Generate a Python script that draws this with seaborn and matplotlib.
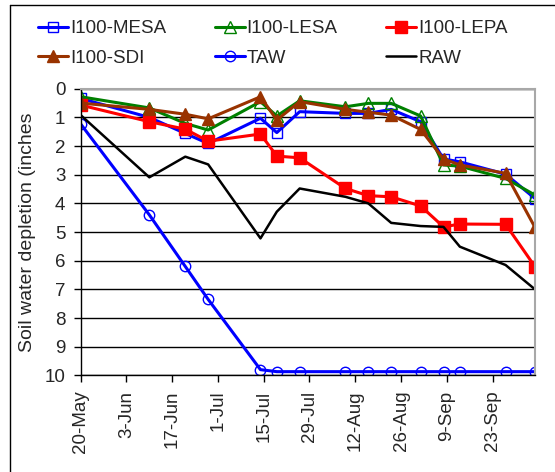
import pandas as pd
import seaborn as sns
import matplotlib
matplotlib.use('Agg')
import matplotlib.pyplot as plt
from matplotlib.lines import Line2D

# measurement dates and depletion values (inches)
dates = ['2010-05-20', '2010-06-10', '2010-06-21', '2010-06-28', '2010-07-14',
         '2010-07-19', '2010-07-26', '2010-08-09', '2010-08-16', '2010-08-23',
         '2010-09-01', '2010-09-08', '2010-09-13', '2010-09-27', '2010-10-06']
mesa = [0.34, 1.0, 1.56, 1.91, 1.03, 1.53, 0.8, 0.86, 0.86, 0.72, 1.15, 2.45, 2.55, 2.98, 3.83]
lesa = [0.28, 0.67, 1.21, 1.44, 0.45, 0.95, 0.42, 0.63, 0.51, 0.51, 0.95, 2.66, 2.70, 3.13, 3.71]
lepa = [0.57, 1.15, 1.41, 1.83, 1.58, 2.35, 2.41, 3.48, 3.73, 3.77, 4.09, 4.82, 4.72, 4.73, 6.21]
sdi = [0.5, 0.72, 0.89, 1.05, 0.28, 1.09, 0.45, 0.72, 0.82, 0.92, 1.42, 2.45, 2.66, 2.95, 4.84]
taw = [1.23, 4.4, 6.2, 7.35, 9.8, 9.87, 9.87, 9.87, 9.87, 9.87, 9.87, 9.87, 9.87, 9.87, 9.87]
raw = [0.92, 3.09, 2.37, 2.64, 5.22, 4.29, 3.48, 3.77, 4.0, 4.68, 4.79, 4.82, 5.51, 6.15, 7.0]

series_names = ['I100-MESA', 'I100-LESA', 'I100-LEPA', 'I100-SDI', 'TAW', 'RAW']
y_ticks = list(range(0, 11))

sns.set_theme(style='white')
plt.rcParams['font.family'] = ['Liberation Sans', 'DejaVu Sans']
plt.rcParams['font.size'] = 13.5

x = pd.to_datetime(dates)

# line/marker styles per series (Excel-like)
styles = {
    'I100-MESA': dict(color='#0000FF', marker='s', ms=7.5, mfc='none', mec='#0000FF', mew=1, lw=2.2),
    'I100-LESA': dict(color='#008000', marker='^', ms=8, mfc='none', mec='#008000', mew=1, lw=2.2),
    'I100-LEPA': dict(color='#FF0000', marker='s', ms=9, mfc='#FF0000', mec='#FF0000', mew=1, lw=2.2),
    'I100-SDI': dict(color='#993300', marker='^', ms=9, mfc='#993300', mec='#993300', mew=1, lw=2.2),
    'TAW': dict(color='#0000FF', marker='o', ms=7.5, mfc='none', mec='#0000FF', mew=1, lw=2.2),
    'RAW': dict(color='black', marker=None, lw=1.8),
}
values = {'I100-MESA': mesa, 'I100-LESA': lesa, 'I100-LEPA': lepa,
          'I100-SDI': sdi, 'TAW': taw, 'RAW': raw}

fig = plt.figure(figsize=(5.55, 4.72), dpi=100)
ax = fig.add_axes([0.1454, 0.2047, 0.8186, 0.6073])

handles = {}
for name in series_names:
    st = styles[name]
    sns.lineplot(x=x, y=values[name], ax=ax, **st)
    handles[name] = Line2D([], [], label=name, **st)

ax.set_ylim(10, 0)
ax.set_yticks(y_ticks)
ax.set_xlim(x[0], x[-1])
ticks = pd.date_range('2010-05-20', '2010-09-23', freq='14D')
ax.set_xticks(ticks)
ax.set_xticklabels([f"{d.day}-{d.strftime('%b')}" for d in ticks], rotation=90)
ax.set_xlabel('')
ax.set_ylabel('Soil water depletion (inches', labelpad=6, fontsize=14)

ax.yaxis.grid(True, color='black', lw=1)
ax.set_axisbelow(True)
ax.tick_params(axis='both', direction='out', length=5, width=1, color='black', pad=6,
               bottom=True, left=True, labelsize=13.5)
for side in ['left', 'bottom']:
    ax.spines[side].set_color('black')
    ax.spines[side].set_linewidth(1)
for side in ['top', 'right']:
    ax.spines[side].set_color('#A8A8A8')
    ax.spines[side].set_linewidth(1.5)

# legend fills column by column, so order handles to read row by row
leg_order = ['I100-MESA', 'I100-SDI', 'I100-LESA', 'TAW', 'I100-LEPA', 'RAW']
fig.legend(handles=[handles[n] for n in leg_order], loc='upper left',
           bbox_to_anchor=(0.0685, 0.957), ncol=3,
           frameon=False, handlelength=1.6, handletextpad=0.1, columnspacing=2.6,
           labelspacing=0.66, borderpad=0, borderaxespad=0, fontsize=13.5)

# chart border (left and top edges visible)
fig.add_artist(Line2D([10 / 555, 10 / 555], [0, 1 - 5 / 472], color='black', lw=1))
fig.add_artist(Line2D([10 / 555, 1], [1 - 5 / 472, 1 - 5 / 472], color='black', lw=1))

fig.savefig('out.png', dpi=100)
